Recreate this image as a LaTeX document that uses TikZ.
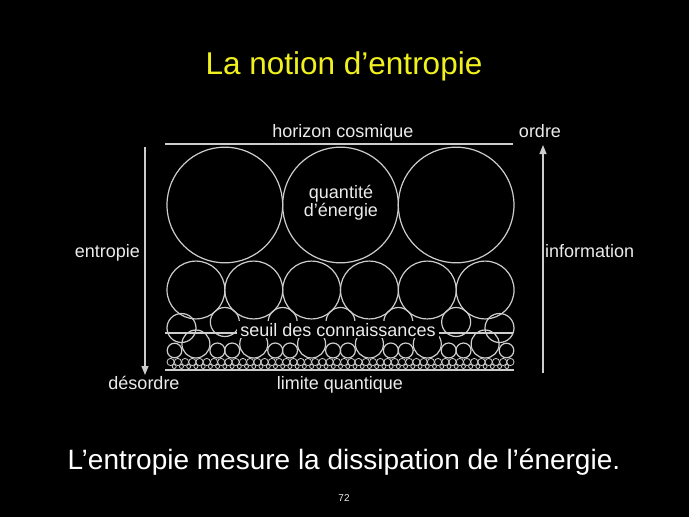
\documentclass[tikz,border=0pt]{standalone}
\usepackage{fontspec}
\setmainfont{Liberation Sans}
\usetikzlibrary{arrows.meta}
\definecolor{linegray}{RGB}{205,205,205}
\definecolor{txtgray}{RGB}{235,235,235}
\definecolor{titleyellow}{RGB}{240,240,30}
\begin{document}
\begin{tikzpicture}[x=1pt,y=-1pt,
  ring/.style={draw=linegray,line width=1.2pt},
  tiny/.style={draw=linegray,line width=0.8pt},
  rule/.style={draw=linegray,line width=1.5pt},
  lbl/.style={text=txtgray,font=\fontsize{18}{17}\selectfont,inner sep=0pt,anchor=base},
  axis/.style={draw=linegray,line width=1.2pt,-{Triangle[width=7pt,length=9pt]}}]
\fill[black] (0,0) rectangle (689,517);
\useasboundingbox (0,0) rectangle (689,517);
% row 1 : three large circles
\foreach \i in {0,1,2} \draw[ring] ({167+57.83*(2*\i+1)},205) circle[radius=57.83pt];
% row 2 : six circles
\foreach \i in {0,...,5} \draw[ring] ({167+28.92*(2*\i+1)},290) circle[radius=28.92pt];
% row 3a : circles in the hollows of row 2
\foreach \i in {1,...,5} \draw[ring] ({167+57.83*\i},322) circle[radius=14.5pt];
\draw[ring] (181.5,328) circle[radius=14.5pt];
\draw[ring] (499.5,328) circle[radius=14.5pt];
% row 3b : circles under the centres of row 2
\foreach \i in {0,...,5} \draw[ring] ({167+28.92*(2*\i+1)},344) circle[radius=14pt];
% row 4 : small circles between row 3b
\foreach \i in {0,...,4} {
  \draw[ring] ({195.9+57.83*\i+21.5},350.5) circle[radius=7.5pt];
  \draw[ring] ({195.9+57.83*\i+36.3},350.5) circle[radius=7.5pt];
}
\draw[ring] (174.5,350.5) circle[radius=7.3pt];
\draw[ring] (506.5,350.5) circle[radius=7.3pt];
% row 5 : tiny circles
\foreach \i in {0,...,47} \draw[tiny] ({167+3.615*(2*\i+1)},362) circle[radius=3.6pt];
\foreach \i in {0,...,46} \draw[tiny] ({167+7.23*(\i+1)},366.5) circle[radius=2pt];

% horizontal rules
\coordinate (hzL) at (165,144);
\coordinate (hzR) at (513,144);
\draw[rule] (hzL) -- (hzR);
\coordinate (sL) at (165,333);
\coordinate (sR) at (513,333);
\draw[rule] (sL) -- (sR);
\coordinate (qL) at (165,370);
\coordinate (qR) at (514,370);
\draw[rule] (qL) -- (qR);

% axes
\coordinate (entTop) at (145,147);
\coordinate (entBot) at (145,375);
\draw[axis] (entTop) -- (entBot);
\coordinate (infBot) at (543,373);
\coordinate (infTop) at (543,145);
\draw[axis] (infBot) -- (infTop);

% texts
\node[lbl,text=titleyellow,font=\fontsize{31.5}{34}\selectfont] (title) at (344,74) {La notion d’entropie};
\node[lbl] (horizon) at (343,137) {horizon cosmique};
\node[lbl] (quant1) at (341,198) {quantité};
\node[lbl] (quant2) at (341,216) {d’énergie};
\node[lbl,anchor=base east] (entropie) at (140,257) {entropie};
\node[lbl] (desordre) at (144,389) {désordre};
\node[lbl] (ordre) at (540,137) {ordre};
\node[lbl,anchor=base west] (info) at (545,257) {information};
\node[lbl,fill=black,inner xsep=3pt,inner ysep=2pt] (seuil) at (338,336) {seuil des connaissances};
\node[lbl] (limite) at (340,389) {limite quantique};
\node[lbl,text=white,font=\fontsize{28}{30}\selectfont] (bottom) at (344,469) {L’entropie mesure la dissipation de l’énergie.};
\node[lbl,font=\fontsize{10}{12}\selectfont] (page) at (344,501) {72};
\end{tikzpicture}
\end{document}
